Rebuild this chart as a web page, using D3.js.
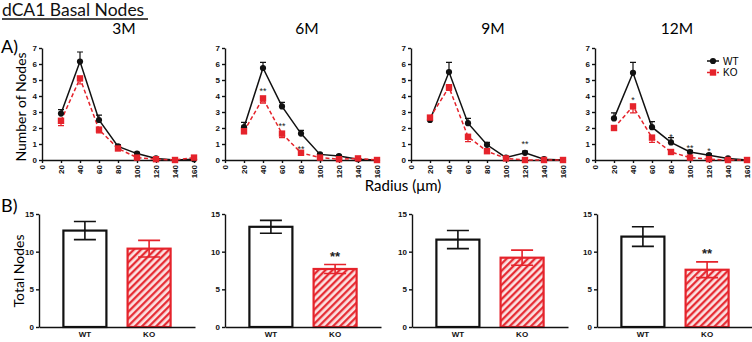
<!DOCTYPE html>
<html>
<head>
<meta charset="utf-8">
<script src="https://cdn.jsdelivr.net/npm/d3@7"></script>
<style>
  body { margin: 0; background: #fff; }
  svg { display: block; }
</style>
</head>
<body>
<div id="chart"></div>
<script>
// ---- data ----
const months = ["3M", "6M", "9M", "12M"];
const radii = [20, 40, 60, 80, 100, 120, 140, 160];
const radiusTicks = [0, 20, 40, 60, 80, 100, 120, 140, 160];
const nodeTicks = [0, 1, 2, 3, 4, 5, 6, 7];
const totalTicks = [0, 5, 10, 15];
const genotypes = ["WT", "KO"];

const wt3M = [2.9, 6.15, 2.5, 0.85, 0.4, 0.1, 0.0, 0.05];
const wt3MErr = [0.25, 0.6, 0.3, 0.1, 0.08, 0.05, 0.02, 0.02];
const ko3M = [2.45, 5.1, 1.9, 0.72, 0.15, 0.05, 0.0, 0.15];
const ko3MErr = [0.3, 0.35, 0.2, 0.12, 0.05, 0.03, 0.02, 0.1];

const wt6M = [2.05, 5.75, 3.35, 1.65, 0.35, 0.25, 0.05, 0.0];
const wt6MErr = [0.3, 0.35, 0.25, 0.2, 0.06, 0.05, 0.02, 0.0];
const ko6M = [1.8, 3.85, 1.65, 0.45, 0.15, 0.05, 0.1, 0.0];
const ko6MErr = [0.15, 0.3, 0.25, 0.1, 0.05, 0.03, 0.05, 0.0];

const wt9M = [2.5, 5.5, 2.3, 0.95, 0.15, 0.45, 0.05, 0.0];
const wt9MErr = [0.15, 0.6, 0.3, 0.15, 0.05, 0.1, 0.03, 0.0];
const ko9M = [2.65, 4.55, 1.45, 0.55, 0.1, 0.0, 0.0, 0.0];
const ko9MErr = [0.15, 0.2, 0.3, 0.1, 0.05, 0.0, 0.0, 0.0];

const wt12M = [2.6, 5.45, 2.05, 1.1, 0.5, 0.3, 0.1, 0.0];
const wt12MErr = [0.35, 0.65, 0.35, 0.3, 0.1, 0.08, 0.04, 0.0];
const ko12M = [2.0, 3.35, 1.4, 0.5, 0.15, 0.05, 0.0, 0.0];
const ko12MErr = [0.15, 0.4, 0.3, 0.08, 0.05, 0.03, 0.0, 0.0];

// significance marks: label and height (in nodes) at each radius
const sig3M = [];
const sig6M = [{r: 40, y: 4.45, t: "**"}, {r: 60, y: 2.25, t: "**"}, {r: 80, y: 0.8, t: "**"}];
const sig9M = [{r: 120, y: 1.1, t: "**"}];
const sig12M = [{r: 40, y: 3.9, t: "*"}, {r: 80, y: 1.55, t: "*"}, {r: 100, y: 0.85, t: "**"}, {r: 120, y: 0.7, t: "*"}];

const totalWT = [12.8, 13.3, 11.6, 12.0];
const totalWTErr = [1.2, 0.85, 1.2, 1.3];
const totalKO = [10.4, 7.7, 9.2, 7.6];
const totalKOErr = [1.1, 0.6, 1.0, 1.05];
const totalSig = ["", "**", "", "**"];

const wtSeries = [wt3M, wt6M, wt9M, wt12M];
const wtErrSeries = [wt3MErr, wt6MErr, wt9MErr, wt12MErr];
const koSeries = [ko3M, ko6M, ko9M, ko12M];
const koErrSeries = [ko3MErr, ko6MErr, ko9MErr, ko12MErr];
const sigSeries = [sig3M, sig6M, sig9M, sig12M];

// ---- layout ----
const width = 752, height = 342;
const red = "#e5232b";
const lineLeft = [42, 225, 411, 595];
const lineW = 152, lineTop = 48, lineBottom = 160;
const barLeft = [39, 225, 412, 597];
const barW = 156, barTop = 214, barBottom = 327;
const tickFont = "'Liberation Sans', Arial, sans-serif";
const labelFont = "Lato, 'Open Sans', sans-serif";

const svg = d3.select("#chart").append("svg")
    .attr("width", width)
    .attr("height", height);

const defs = svg.append("defs");
const hatch = defs.append("pattern")
    .attr("id", "hatch")
    .attr("patternUnits", "userSpaceOnUse")
    .attr("width", 5)
    .attr("height", 5)
    .attr("patternTransform", "rotate(45)");
hatch.append("rect").attr("width", 5).attr("height", 5).attr("fill", "#fbe3e3");
hatch.append("line")
    .attr("x1", 1.2).attr("y1", 0).attr("x2", 1.2).attr("y2", 5)
    .attr("stroke", red).attr("stroke-width", 2.2);

// Titles
svg.append("text")
    .attr("x", 2).attr("y", 16)
    .style("font-family", labelFont).style("font-size", "17.5px")
    .attr("fill", "#111")
    .text("dCA1 Basal Nodes");
svg.append("line")
    .attr("x1", 2).attr("x2", 148).attr("y1", 19).attr("y2", 19)
    .attr("stroke", "#111").attr("stroke-width", 1.3);

svg.append("text").attr("x", 1).attr("y", 53)
    .style("font-family", labelFont).style("font-size", "18px").text("A)");
svg.append("text").attr("x", 1).attr("y", 212)
    .style("font-family", labelFont).style("font-size", "18px").text("B)");

svg.append("text")
    .attr("transform", "translate(26,107) rotate(-90)")
    .attr("text-anchor", "middle")
    .style("font-family", labelFont).style("font-size", "14px")
    .text("Number of Nodes");
svg.append("text")
    .attr("transform", "translate(24,271) rotate(-90)")
    .attr("text-anchor", "middle")
    .style("font-family", labelFont).style("font-size", "14px")
    .text("Total Nodes");
svg.append("text")
    .attr("x", 403).attr("y", 191)
    .attr("text-anchor", "middle")
    .style("font-family", labelFont).style("font-size", "15px")
    .text("Radius (\u03bcm)");

// ---- line panels ----
months.forEach(function (m, i) {
    const x = d3.scaleLinear().domain([0, 160]).range([lineLeft[i], lineLeft[i] + lineW]);
    const y = d3.scaleLinear().domain([0, 7]).range([lineBottom, lineTop]);
    const g = svg.append("g").attr("class", "line-panel");

    g.append("text")
        .attr("x", lineLeft[i] + lineW / 2 + 6).attr("y", 34)
        .attr("text-anchor", "middle")
        .style("font-family", labelFont).style("font-size", "15.5px")
        .text(m);

    const yAxis = g.append("g")
        .attr("transform", "translate(" + lineLeft[i] + ",0)")
        .call(d3.axisLeft(y).tickValues(nodeTicks).tickFormat(d3.format("d"))
            .tickSize(3).tickSizeOuter(0).tickPadding(2));
    const xAxis = g.append("g")
        .attr("transform", "translate(0," + lineBottom + ")")
        .call(d3.axisBottom(x).tickValues(radiusTicks).tickFormat(d3.format("d"))
            .tickSize(3).tickSizeOuter(0).tickPadding(2));
    xAxis.selectAll("text")
        .attr("transform", "rotate(-90)")
        .attr("text-anchor", "end")
        .attr("x", -5).attr("y", 0).attr("dy", "0.35em");
    [yAxis, xAxis].forEach(function (a) {
        a.selectAll("path, line").attr("stroke", "#111").attr("stroke-width", 1.4);
        a.selectAll("text")
            .style("font-family", tickFont).style("font-size", "8px")
            .style("font-weight", "bold").attr("fill", "#111");
    });

    const wt = wtSeries[i], wtE = wtErrSeries[i], ko = koSeries[i], koE = koErrSeries[i];
    const line = d3.line().x(function (d) { return x(d.r); }).y(function (d) { return y(d.v); });
    const wtPts = radii.map(function (r, k) { return {r: r, v: wt[k], e: wtE[k]}; });
    const koPts = radii.map(function (r, k) { return {r: r, v: ko[k], e: koE[k]}; });

    // error bars: WT upward, KO downward
    const cap = 3;
    wtPts.forEach(function (d) {
        if (d.e <= 0) return;
        g.append("path")
            .attr("d", "M" + x(d.r) + "," + y(d.v) + "V" + y(d.v + d.e) +
                "M" + (x(d.r) - cap) + "," + y(d.v + d.e) + "H" + (x(d.r) + cap))
            .attr("stroke", "#111").attr("stroke-width", 1.2).attr("fill", "none");
    });
    koPts.forEach(function (d) {
        if (d.e <= 0) return;
        g.append("path")
            .attr("d", "M" + x(d.r) + "," + y(d.v) + "V" + y(Math.max(0, d.v - d.e)) +
                "M" + (x(d.r) - cap) + "," + y(Math.max(0, d.v - d.e)) + "H" + (x(d.r) + cap))
            .attr("stroke", red).attr("stroke-width", 1.2).attr("fill", "none");
    });

    g.append("path").datum(wtPts)
        .attr("d", line).attr("fill", "none")
        .attr("stroke", "#111").attr("stroke-width", 1.5);
    g.append("path").datum(koPts)
        .attr("d", line).attr("fill", "none")
        .attr("stroke", red).attr("stroke-width", 1.5)
        .attr("stroke-dasharray", "4,2.5");

    g.selectAll(".wt-dot").data(wtPts).enter().append("circle")
        .attr("cx", function (d) { return x(d.r); })
        .attr("cy", function (d) { return y(d.v); })
        .attr("r", 3.1).attr("fill", "#111");
    g.selectAll(".ko-dot").data(koPts).enter().append("rect")
        .attr("x", function (d) { return x(d.r) - 3.2; })
        .attr("y", function (d) { return y(d.v) - 3.2; })
        .attr("width", 6.4).attr("height", 6.4).attr("fill", red);

    g.selectAll(".sig").data(sigSeries[i]).enter().append("text")
        .attr("x", function (d) { return x(d.r); })
        .attr("y", function (d) { return y(d.y) + 5; })
        .attr("text-anchor", "middle")
        .style("font-family", tickFont).style("font-size", "9px")
        .attr("fill", "#222")
        .text(function (d) { return d.t; });
});

// legend on 12M panel
const leg = svg.append("g").attr("transform", "translate(707,61)");
leg.append("line").attr("x1", 0).attr("x2", 12).attr("stroke", "#111").attr("stroke-width", 1.5);
leg.append("circle").attr("cx", 6).attr("r", 3.1).attr("fill", "#111");
leg.append("text").attr("x", 16).attr("y", 3.5)
    .style("font-family", tickFont).style("font-size", "10px").text("WT");
leg.append("line").attr("x1", 0).attr("x2", 12).attr("y1", 11.5).attr("y2", 11.5)
    .attr("stroke", red).attr("stroke-width", 1.5).attr("stroke-dasharray", "3,2");
leg.append("rect").attr("x", 2.8).attr("y", 8.3).attr("width", 6.4).attr("height", 6.4).attr("fill", red);
leg.append("text").attr("x", 16).attr("y", 15)
    .style("font-family", tickFont).style("font-size", "10px").text("KO");

// ---- bar panels ----
months.forEach(function (m, i) {
    const x = d3.scaleBand().domain(genotypes)
        .range([barLeft[i], barLeft[i] + barW])
        .paddingInner(0.33).paddingOuter(0.38);
    const y = d3.scaleLinear().domain([0, 15]).range([barBottom, barTop]);
    const g = svg.append("g").attr("class", "bar-panel");

    const vals = [
        {k: "WT", v: totalWT[i], e: totalWTErr[i], c: "#111", fill: "#fff"},
        {k: "KO", v: totalKO[i], e: totalKOErr[i], c: red, fill: "url(#hatch)"}
    ];

    g.selectAll(".bar").data(vals).enter().append("rect")
        .attr("x", function (d) { return x(d.k); })
        .attr("y", function (d) { return y(d.v); })
        .attr("width", x.bandwidth())
        .attr("height", function (d) { return barBottom - y(d.v); })
        .attr("fill", function (d) { return d.fill; })
        .attr("stroke", function (d) { return d.c; })
        .attr("stroke-width", 2.2);

    vals.forEach(function (d) {
        const cx = x(d.k) + x.bandwidth() / 2, cap = 11;
        g.append("path")
            .attr("d", "M" + cx + "," + y(d.v - d.e) + "V" + y(d.v + d.e) +
                "M" + (cx - cap) + "," + y(d.v + d.e) + "H" + (cx + cap) +
                "M" + (cx - cap) + "," + y(d.v - d.e) + "H" + (cx + cap))
            .attr("stroke", d.c).attr("stroke-width", 1.6).attr("fill", "none");
    });

    if (totalSig[i]) {
        g.append("text")
            .attr("x", x("KO") + x.bandwidth() / 2)
            .attr("y", y(totalKO[i] + totalKOErr[i] + 1.3) + 6)
            .attr("text-anchor", "middle")
            .style("font-family", tickFont).style("font-size", "13px").style("font-weight", "bold")
            .attr("fill", "#222")
            .text(totalSig[i]);
    }

    const yAxis = g.append("g")
        .attr("transform", "translate(" + barLeft[i] + ",0)")
        .call(d3.axisLeft(y).tickValues(totalTicks).tickFormat(d3.format("d"))
            .tickSize(3).tickSizeOuter(0).tickPadding(2));
    const xAxis = g.append("g")
        .attr("transform", "translate(0," + barBottom + ")")
        .call(d3.axisBottom(x).tickSize(0).tickSizeOuter(0).tickPadding(4));
    [yAxis, xAxis].forEach(function (a) {
        a.selectAll("path, line").attr("stroke", "#111").attr("stroke-width", 1.4);
        a.selectAll("text")
            .style("font-family", tickFont).style("font-size", "8px")
            .style("font-weight", "bold").attr("fill", "#111");
    });
});
</script>
</body>
</html>
